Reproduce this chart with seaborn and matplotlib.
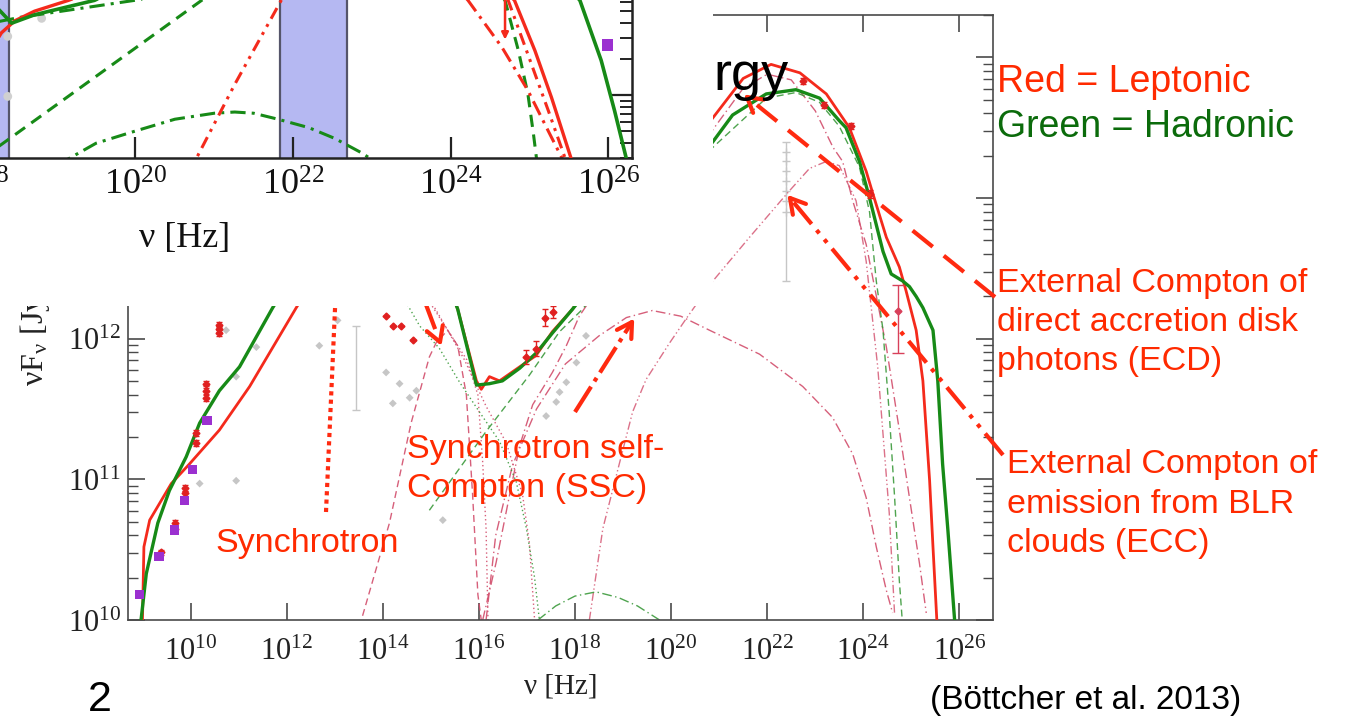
import numpy as np
import matplotlib
matplotlib.use("Agg")
import matplotlib.pyplot as plt
import seaborn as sns
from matplotlib.lines import Line2D
from matplotlib.patches import Rectangle
from matplotlib.transforms import Affine2D
from matplotlib.ticker import LogLocator, NullFormatter, NullLocator

W, H = 1345, 721

RED_TXT = "#FF2A00"
GREEN_TXT = "#0B6B0B"
LINE_RED = "#F42A1C"
LINE_GREEN = "#178A17"
THIN_RED = "#D24E6C"
THIN_GREEN = "#3C9A3C"
PURPLE = "#9B30D0"
GREY = "#C6C6C6"
BAND = "#B5B8F2"
SERIF = "Liberation Serif"

# ---------------- broadband SED: log10(nu / Hz), log10(nuFnu / Jy Hz) ----------------
lep_total_lognu = [9.00, 9.03, 9.15, 9.60, 9.98, 10.60, 11.23, 12.20, 13.00, 13.80, 14.50, 15.00,
                   15.56, 15.95, 16.05, 16.22, 16.43, 16.85, 17.19, 17.53, 17.95, 19.00, 20.00,
                   20.87, 21.50, 22.08, 22.68, 23.23, 23.71, 24.06, 24.20, 24.48, 24.75, 24.89,
                   25.10, 25.24, 25.38, 25.45, 25.53]
lep_total_logf = [10.00, 10.52, 10.71, 10.97, 11.11, 11.35, 11.66, 12.22, 12.65, 12.95, 12.95, 12.70,
                  12.21, 11.70, 11.64, 11.73, 11.70, 11.80, 11.88, 12.05, 12.21, 12.75, 13.20,
                  13.57, 13.85, 13.95, 13.89, 13.74, 13.50, 13.19, 13.03, 12.72, 12.51, 12.34,
                  12.06, 11.70, 10.99, 10.52, 10.00]

had_total_lognu = [8.97, 9.08, 9.32, 9.56, 9.91, 10.19, 10.60, 11.02, 11.71, 12.50, 13.30, 14.00,
                   14.70, 15.20, 15.56, 15.95, 16.22, 16.49, 16.85, 17.20, 17.53, 17.95, 19.00,
                   20.00, 20.87, 21.28, 21.98, 22.60, 23.09, 23.50, 23.64, 23.92, 24.13, 24.27,
                   24.41, 24.58, 24.82, 24.96, 25.10, 25.24, 25.45, 25.55, 25.65, 25.76, 25.90]
had_total_logf = [10.00, 10.33, 10.69, 10.92, 11.16, 11.40, 11.63, 11.80, 12.22, 12.65, 12.95, 13.05,
                  12.85, 12.55, 12.21, 11.67, 11.68, 11.70, 11.79, 11.90, 12.04, 12.21, 12.67,
                  13.05, 13.40, 13.59, 13.74, 13.77, 13.71, 13.55, 13.50, 13.26, 13.00, 12.81,
                  12.62, 12.46, 12.41, 12.37, 12.30, 12.22, 12.06, 11.70, 11.11, 10.64, 10.00]

# leptonic model components
lep_hump_lognu = [13.58, 14.14, 14.59, 14.97, 15.11, 15.35, 15.56, 15.74, 15.87, 15.98, 16.05]
lep_hump_logf = [10.03, 10.69, 11.40, 11.87, 11.97, 12.06, 11.95, 11.60, 10.89, 10.18, 10.00]
lep_dot_a_lognu = [14.40, 14.90, 15.39, 15.75, 15.98, 16.08, 16.15, 16.19]
lep_dot_a_logf = [12.55, 12.30, 12.04, 11.85, 11.60, 11.12, 10.65, 10.00]
lep_dot_b_lognu = [14.60, 15.20, 15.70, 16.15, 16.57, 16.91, 17.05, 17.16]
lep_dot_b_logf = [12.50, 12.15, 11.85, 11.52, 11.26, 10.89, 10.55, 10.00]
ssc_lognu = [16.15, 16.35, 16.70, 17.20, 17.80, 18.50, 19.07, 19.61, 20.20, 20.80, 21.84, 22.74,
             23.36, 23.78, 24.06, 24.27, 24.48, 24.61]
ssc_logf = [10.00, 10.60, 11.10, 11.50, 11.82, 12.02, 12.15, 12.20, 12.16, 12.06, 11.89, 11.66,
            11.44, 11.18, 10.87, 10.52, 10.21, 10.05]
ecd_lognu = [16.08, 16.36, 16.64, 16.85, 17.12, 17.53, 17.82, 18.09, 19.00, 20.00, 20.90, 21.50,
             22.00, 22.50, 23.00, 23.37, 23.57, 23.78, 24.06, 24.48, 24.75, 24.96, 25.17, 25.31]
ecd_logf = [10.00, 10.41, 10.89, 11.24, 11.53, 11.76, 11.95, 12.16, 12.62, 13.08, 13.50, 13.78,
            13.88, 13.84, 13.62, 13.36, 13.26, 12.98, 12.67, 11.94, 11.35, 10.87, 10.40, 10.05]
ecc_lognu = [18.30, 18.58, 18.93, 19.20, 19.48, 19.97, 20.31, 20.87, 21.63, 22.46, 22.88, 23.23,
             23.50, 23.85, 24.06, 24.30, 24.54, 24.65]
ecc_logf = [10.00, 10.65, 11.12, 11.48, 11.71, 11.97, 12.14, 12.41, 12.72, 13.05, 13.21, 13.26,
            13.23, 12.98, 12.55, 11.80, 10.76, 10.05]

# hadronic model components
had_dot_lognu = [14.00, 14.50, 14.77, 15.18, 15.60, 16.01, 16.43, 16.78, 16.99, 17.16, 17.26]
had_dot_logf = [12.55, 12.25, 12.09, 11.93, 11.69, 11.48, 11.27, 10.98, 10.65, 10.30, 10.00]
had_dash_lognu = [14.97, 16.15, 17.05, 17.68, 18.16, 19.50, 20.87, 21.98, 22.60, 23.09, 23.50,
                  23.92, 24.13, 24.27, 24.41, 24.54, 24.65, 24.75, 24.81]
had_dash_logf = [10.78, 11.34, 11.74, 12.05, 12.21, 12.82, 13.36, 13.71, 13.75, 13.68, 13.51,
                 13.22, 12.90, 12.41, 12.06, 11.47, 10.88, 10.28, 10.00]
had_dashdot_lognu = [17.23, 17.60, 18.00, 18.44, 18.90, 19.30, 19.76]
had_dashdot_logf = [10.00, 10.10, 10.17, 10.20, 10.16, 10.10, 10.00]

# observations
red_pts_lognu = [9.39, 9.67, 9.67, 9.88, 9.88, 10.12, 10.12, 10.33, 10.33, 10.33, 10.60, 10.60,
                 10.60, 14.07, 14.21, 14.38, 14.63, 16.98, 17.19, 17.37, 17.55, 22.74, 23.19,
                 23.75, 24.13]
red_pts_logf = [10.48, 10.69, 10.65, 10.94, 10.90, 11.33, 11.26, 11.68, 11.63, 11.58, 12.10, 12.07,
                12.04, 12.16, 12.09, 12.09, 11.99, 11.87, 11.93, 12.15, 12.19, 13.83, 13.66,
                13.51, 13.03]
red_pts_err = [0.02, 0.02, 0.02, 0.02, 0.02, 0.02, 0.02, 0.02, 0.02, 0.02, 0.02, 0.02, 0.02,
               0.0, 0.0, 0.0, 0.0, 0.05, 0.05, 0.06, 0.04, 0.02, 0.02, 0.02, 0.03]
lat_pt_lognu = [24.72]
lat_pt_logf = [12.20]
lat_pt_err_lo = [0.30]
lat_pt_err_hi = [0.18]
purple_lognu = [8.94, 9.34, 9.67, 9.88, 10.04, 10.34]
purple_logf = [10.18, 10.45, 10.64, 10.85, 11.07, 11.42]
grey_lognu = [10.19, 10.74, 10.95, 10.95, 11.37, 12.68, 13.06, 14.07, 14.21, 14.35, 14.56, 14.70,
              15.25, 17.40, 17.61, 17.68, 17.82, 18.03, 18.23]
grey_logf = [10.97, 12.06, 11.73, 10.99, 11.94, 11.95, 12.13, 11.76, 11.54, 11.68, 11.58, 11.63,
             10.71, 11.45, 11.55, 11.62, 11.69, 11.83, 12.02]
grey_bar_lognu = [13.45, 22.39]
grey_bar_lo = [11.49, 12.41]
grey_bar_hi = [12.09, 13.40]
grey_col_logf = [13.33, 13.26, 13.19, 13.12, 13.05, 12.98, 12.90]

# ---------------- close-up of the gamma-ray end (arbitrary flux units) ----------------
ins_lep_lognu = [18.00, 18.30, 18.47, 18.72, 19.15, 19.60, 21.00, 23.00, 24.30, 24.81, 25.07,
                 25.28, 25.53, 25.62]
ins_lep_logf = [13.20, 13.52, 13.62, 13.70, 13.79, 13.90, 14.30, 14.45, 14.15, 13.79, 13.37,
                12.98, 12.47, 12.30]
ins_had_lognu = [18.00, 18.30, 18.43, 18.72, 19.48, 20.50, 23.00, 25.00, 25.64, 25.91, 26.08,
                 26.23, 26.30]
ins_had_logf = [13.90, 13.69, 13.60, 13.67, 13.79, 14.10, 14.50, 14.25, 13.79, 13.29, 12.87,
                12.47, 12.30]
ins_had_dash_lognu = [17.50, 18.30, 20.84, 22.00, 23.50, 24.30, 24.69, 24.86, 24.98, 25.05,
                      25.09, 25.12]
ins_had_dash_logf = [12.22, 12.59, 13.79, 14.20, 14.40, 14.10, 13.79, 13.37, 13.01, 12.68,
                     12.47, 12.30]
ins_had_dd_up_lognu = [18.00, 18.55, 19.99, 20.50]
ins_had_dd_up_logf = [13.58, 13.65, 13.79, 13.85]
ins_had_dd_lo_lognu = [19.00, 19.15, 19.50, 19.99, 20.50, 21.00, 21.26, 21.50, 21.81, 22.20,
                       22.53, 22.87, 23.10]
ins_had_dd_lo_logf = [12.42, 12.47, 12.60, 12.70, 12.80, 12.85, 12.86, 12.85, 12.80, 12.73,
                      12.64, 12.52, 12.42]
ins_lep_ddd_lognu = [20.60, 20.77, 21.26, 21.85, 22.20, 23.50, 24.30, 24.73, 24.98, 25.24,
                     25.45, 25.50]
ins_lep_ddd_logf = [12.30, 12.47, 13.09, 13.79, 14.20, 14.55, 14.20, 13.79, 13.34, 12.87,
                    12.48, 12.35]
ins_lep_dd_lognu = [23.00, 23.80, 24.22, 24.65, 24.98, 25.24, 25.41, 25.50]
ins_lep_dd_logf = [14.40, 14.10, 13.79, 13.40, 13.04, 12.70, 12.48, 12.30]
ins_ul_lognu = 24.69
ins_ul_logf = [13.92, 13.44]
ins_purple_lognu = [25.99]
ins_purple_logf = [13.42]
ins_grey_lognu = [18.81, 18.38, 18.38]
ins_grey_logf = [13.64, 13.49, 12.99]
ins_bands = [(17.80, 18.39), (21.84, 22.68)]

# ---------------- style ----------------
sns.set_theme(style="ticks")
plt.rcParams.update({
    "font.family": ["Liberation Sans", "DejaVu Sans"],
    "mathtext.fontset": "custom",
    "mathtext.rm": SERIF,
    "mathtext.it": SERIF + ":italic",
    "mathtext.bf": SERIF + ":bold",
    "axes.facecolor": "white",
    "figure.facecolor": "white",
})

fig = plt.figure(figsize=(W / 100, H / 100), dpi=100)
px = Affine2D().scale(1.0 / W, -1.0 / H).translate(0, 1) + fig.transFigure


def curve(ax, lognu, logf, color, lw, ls="-", alpha=1.0, z=2):
    sns.lineplot(x=10.0 ** np.asarray(lognu), y=10.0 ** np.asarray(logf), ax=ax,
                 color=color, linewidth=lw, linestyle=ls, alpha=alpha,
                 estimator=None, sort=False, legend=False, zorder=z)


def log_errorbar(ax, lognu, logf, lo, hi, **kw):
    x = 10.0 ** np.asarray(lognu)
    y = 10.0 ** np.asarray(logf)
    yerr = [y - 10.0 ** (np.asarray(logf) - np.asarray(lo)),
            10.0 ** (np.asarray(logf) + np.asarray(hi)) - y]
    ax.errorbar(x, y, yerr=yerr, **kw)


def frame(ax, edge, lw):
    for s in ax.spines.values():
        s.set_color(edge)
        s.set_linewidth(lw)


def decade_labels(decades, shown=None):
    return [rf"$\mathrm{{10^{{{d}}}}}$" if (shown is None or d in shown) else "" for d in decades]


# ---------------- main SED panel ----------------
ax = fig.add_axes([128 / W, 1 - 620 / H, 865 / W, 605 / H])
ax.set_xscale("log")
ax.set_yscale("log")

DASH = (0, (5, 3))
DOT = (0, (1, 2))
DASHDOT = (0, (7, 2.5, 1, 2.5))
DASHDOTDOT = (0, (6, 2, 1, 2, 1, 2))

curve(ax, lep_hump_lognu, lep_hump_logf, THIN_RED, 1.0, DASH, 0.9)
curve(ax, lep_dot_a_lognu, lep_dot_a_logf, THIN_RED, 1.0, DOT, 0.9)
curve(ax, lep_dot_b_lognu, lep_dot_b_logf, THIN_RED, 1.0, DOT, 0.9)
curve(ax, ssc_lognu, ssc_logf, THIN_RED, 1.0, DASHDOT, 0.9)
curve(ax, ecd_lognu, ecd_logf, THIN_RED, 1.0, DASHDOT, 0.9)
curve(ax, ecc_lognu, ecc_logf, THIN_RED, 1.0, DASHDOTDOT, 0.8)
curve(ax, had_dot_lognu, had_dot_logf, THIN_GREEN, 1.0, DOT, 0.9)
curve(ax, had_dash_lognu, had_dash_logf, THIN_GREEN, 1.0, DASH, 0.9)
curve(ax, had_dashdot_lognu, had_dashdot_logf, THIN_GREEN, 1.0, DASHDOT, 0.9)

sns.scatterplot(x=10.0 ** np.asarray(grey_lognu), y=10.0 ** np.asarray(grey_logf), ax=ax,
                marker="D", s=16, color=GREY, edgecolor="none", legend=False, zorder=1)
log_errorbar(ax, grey_bar_lognu, [(a + b) / 2 for a, b in zip(grey_bar_lo, grey_bar_hi)],
             [(b - a) / 2 for a, b in zip(grey_bar_lo, grey_bar_hi)],
             [(b - a) / 2 for a, b in zip(grey_bar_lo, grey_bar_hi)],
             fmt="none", ecolor=GREY, elinewidth=1.0, capsize=3, zorder=1)
sns.scatterplot(x=[10.0 ** grey_bar_lognu[1]] * len(grey_col_logf),
                y=10.0 ** np.asarray(grey_col_logf), ax=ax, marker="+", s=30,
                color=GREY, linewidth=1.0, legend=False, zorder=1)

curve(ax, lep_total_lognu, lep_total_logf, LINE_RED, 2.0, "-", 1.0, 4)
curve(ax, had_total_lognu, had_total_logf, LINE_GREEN, 2.4, "-", 1.0, 4)

log_errorbar(ax, red_pts_lognu, red_pts_logf, red_pts_err, red_pts_err,
             fmt="D", ms=3.5, color="#E02020", ecolor="#E02020", elinewidth=1.0,
             capsize=2.5, zorder=5)
log_errorbar(ax, lat_pt_lognu, lat_pt_logf, lat_pt_err_lo, lat_pt_err_hi,
             fmt="D", ms=3.5, color="#D8405A", ecolor="#D8405A", elinewidth=1.0,
             capsize=4, zorder=5)
sns.scatterplot(x=10.0 ** np.asarray(purple_lognu), y=10.0 ** np.asarray(purple_logf), ax=ax,
                marker="s", s=46, color=PURPLE, edgecolor="none", legend=False, zorder=6)

xdec = list(range(10, 27, 2))
ax.set_xticks([10.0 ** d for d in xdec], labels=decade_labels(xdec))
ax.xaxis.set_minor_locator(NullLocator())
ydec = [10, 11, 12, 13, 14]
ax.set_yticks([10.0 ** d for d in ydec], labels=decade_labels(ydec, shown=(10, 11, 12)))
ax.yaxis.set_minor_locator(LogLocator(base=10, subs=np.arange(2, 10)))
ax.yaxis.set_minor_formatter(NullFormatter())
ax.set_xlim(5e8, 5e26)
ax.set_ylim(1e10, 2e14)
ax.tick_params(which="both", direction="in", bottom=True, top=True, left=True, right=True,
               color="#4a4a4a", labelcolor="#222222", labelsize=22)
ax.tick_params(which="major", length=12, width=1.2)
ax.tick_params(which="minor", length=7, width=1.0)
ax.tick_params(axis="x", pad=12)
ax.tick_params(axis="y", pad=5)
frame(ax, "#4a4a4a", 1.2)
ax.set_xlabel("ν [Hz]", fontsize=21, color="#222222", fontfamily=SERIF)
ax.xaxis.set_label_coords(0.5, -0.089)
ax.set_ylabel(r"νF$_\mathrm{ν}$ [Jy Hz]", fontsize=23, color="#222222", fontfamily=SERIF)
ax.yaxis.set_label_coords(-0.088, 0.507)
ax.set_zorder(0)

# ---------------- annotation arrows (pixel coordinates) ----------------
ARROW_RED = "#FF2A10"


def slide_arrow(x0, y0, x1, y1, ls, head=True, lw=3.0):
    fig.add_artist(Line2D([x0, x1], [y0, y1], transform=px, color=ARROW_RED, lw=lw,
                          linestyle=ls, dash_capstyle="butt", solid_capstyle="butt", zorder=4))
    if head:
        d = np.array([x0 - x1, y0 - y1], dtype=float)
        d /= np.hypot(*d)
        for sgn in (1, -1):
            a = np.deg2rad(30) * sgn
            r = np.array([np.cos(a) * d[0] - np.sin(a) * d[1], np.sin(a) * d[0] + np.cos(a) * d[1]])
            fig.add_artist(Line2D([x1, x1 + 17 * r[0]], [y1, y1 + 17 * r[1]], transform=px,
                                  color=ARROW_RED, lw=lw, solid_capstyle="round", zorder=4))


slide_arrow(326, 512, 338.5, 230, (0, (1, 1)), head=False)
slide_arrow(398, 230, 440, 342, (0, (6.2, 3.4)))
slide_arrow(575, 412, 632, 322, (0, (7.2, 1.5, 1, 1.5)))
slide_arrow(995, 297, 747, 97, (0, (6.2, 3.4)))
slide_arrow(1003, 455, 790, 198, (0, (6.7, 1.9, 1, 1.9, 1, 1.9)))

# white panel carrying the close-up
fig.add_artist(Rectangle((0, 0), 713, 306, transform=px, facecolor="white",
                         edgecolor="none", zorder=5))

# ---------------- close-up panel ----------------
ins = fig.add_axes([-101 / W, 1 - 158 / H, 733 / W, 219 / H])
ins.set_zorder(10)
ins.set_xscale("log")
ins.set_yscale("log")
for lo, hi in ins_bands:
    ins.axvspan(10.0 ** lo, 10.0 ** hi, facecolor=BAND, edgecolor="none", zorder=0)
    for edge in (lo, hi):
        ins.axvline(10.0 ** edge, color="#55556a", lw=1.6, zorder=0.5)

curve(ins, ins_had_dd_up_lognu, ins_had_dd_up_logf, LINE_GREEN, 2.2, (0, (5, 2, 1, 2)))
curve(ins, ins_had_dd_lo_lognu, ins_had_dd_lo_logf, LINE_GREEN, 2.2, (0, (5, 2, 1, 2)))
curve(ins, ins_had_dash_lognu, ins_had_dash_logf, LINE_GREEN, 2.2, (0, (4, 2.5)))
curve(ins, ins_lep_ddd_lognu, ins_lep_ddd_logf, LINE_RED, 2.2, (0, (4, 2, 1, 2, 1, 2)))
curve(ins, ins_lep_dd_lognu, ins_lep_dd_logf, LINE_RED, 2.2, (0, (5, 2, 1, 2)))
curve(ins, ins_lep_lognu, ins_lep_logf, LINE_RED, 2.4, "-", 1.0, 4)
curve(ins, ins_had_lognu, ins_had_logf, LINE_GREEN, 2.6, "-", 1.0, 4)
sns.scatterplot(x=10.0 ** np.asarray(ins_grey_lognu), y=10.0 ** np.asarray(ins_grey_logf),
                ax=ins, marker="o", s=40, color="#D0D0D0", edgecolor="none", legend=False, zorder=1)
sns.scatterplot(x=10.0 ** np.asarray(ins_purple_lognu), y=10.0 ** np.asarray(ins_purple_logf),
                ax=ins, marker="s", s=70, color=PURPLE, edgecolor="none", legend=False, zorder=6)
ins.annotate("", xy=(10.0 ** ins_ul_lognu, 10.0 ** ins_ul_logf[1]),
             xytext=(10.0 ** ins_ul_lognu, 10.0 ** ins_ul_logf[0]),
             arrowprops=dict(arrowstyle="-|>", color=LINE_RED, lw=1.8, mutation_scale=10),
             zorder=6)

ins.set_xlim(1e17, 2e26)
ins.set_ylim(3e12, 2e14)
idec = list(range(18, 27, 2))
ins.set_xticks([10.0 ** d for d in idec], labels=decade_labels(idec))
ins.xaxis.set_minor_locator(NullLocator())
ins.set_yticks([1e13, 1e14])
ins.yaxis.set_minor_locator(LogLocator(base=10, subs=np.arange(2, 10)))
ins.yaxis.set_minor_formatter(NullFormatter())
ins.tick_params(which="both", direction="in", bottom=True, top=True, left=True, right=True,
                labelleft=False, color="#222222", labelcolor="#111111", labelsize=26)
ins.tick_params(which="major", length=15, width=1.6)
ins.tick_params(which="minor", length=8.5, width=1.4)
ins.tick_params(axis="x", pad=7)
frame(ins, "#222222", 1.8)
ins.set_xlabel("ν [Hz]", fontsize=26, color="#111111", fontfamily=SERIF)
ins.xaxis.set_label_coords(0.39, -0.29)


# ---------------- slide text ----------------
def slide_text(x, y, s, color=RED_TXT, size=24.5, **kw):
    fig.text(x, y, s, transform=px, color=color, fontsize=size, ha="left",
             va="baseline", zorder=6, **kw)


slide_text(713, 90, "rgy", color="black", size=39)
slide_text(997, 92, "Red = Leptonic", size=27)
slide_text(997, 137, "Green = Hadronic", color=GREEN_TXT, size=27)
slide_text(997, 292, "External Compton of")
slide_text(997, 331, "direct accretion disk")
slide_text(997, 370, "photons (ECD)")
slide_text(1007, 473, "External Compton of")
slide_text(1007, 513, "emission from BLR")
slide_text(1007, 552, "clouds (ECC)")
slide_text(215, 552, "Synchrotron")
slide_text(407, 458, "Synchrotron self-")
slide_text(407, 497, "Compton (SSC)")
slide_text(930, 709, "(Böttcher et al. 2013)", color="black", size=24)
slide_text(88, 711, "2", color="black", size=31)

fig.savefig("out.png", dpi=100, facecolor="white")
